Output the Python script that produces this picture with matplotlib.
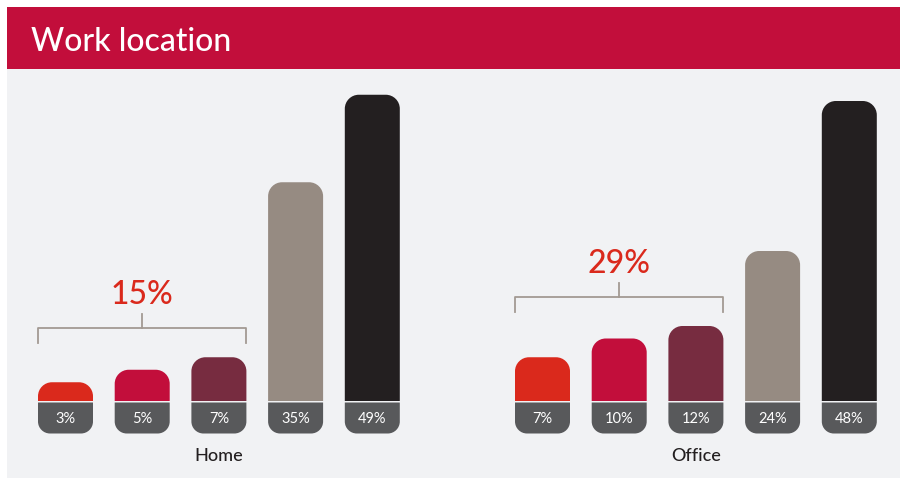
import matplotlib.pyplot as plt
from matplotlib.patches import PathPatch, Rectangle
from matplotlib.path import Path

# survey shares per work location
groups = ["Home", "Office"]
home_values = [3, 5, 7, 35, 49]
office_values = [7, 10, 12, 24, 48]
home_small_total = 15
office_small_total = 29

bar_colors = ["#DA291C", "#C20E3B", "#772C40", "#968B82", "#231F20"]
crimson = "#C20E3B"
panel_bg = "#F1F2F4"
label_bg = "#58595B"
bracket_color = "#A39A93"

W, H = 904, 479
PX_PER_PCT = 6.25          # vertical scale of the bar axes
BAR_W = 55
STEP = 76.7
R_BAR = 14                 # corner radii in px
R_TAG = 12
group_left = [38, 515]

plt.rcParams["font.family"] = ["Lato", "DejaVu Sans"]

fig = plt.figure(figsize=(W / 100, H / 100), dpi=100)
fig.patch.set_facecolor("white")

# background: header band + light panel, in pixel coordinates
bg = fig.add_axes([0, 0, 1, 1])
bg.set_xlim(0, W)
bg.set_ylim(H, 0)
bg.axis("off")
bg.add_patch(Rectangle((7, 69), 893, 409, color=panel_bg, lw=0))
bg.add_patch(Rectangle((7, 7), 893, 62, color=crimson, lw=0))
bg.text(31, 42, "Work location", color="white", fontsize=23,
        fontweight="medium", va="center", ha="left")

# bar axes: baseline at 401 px from the top, y in percent
base_px = 401
top_px = 80
ax = fig.add_axes([0, (H - base_px) / H, 1, (base_px - top_px) / H])
ax.set_xlim(0, W)
ax.set_ylim(0, (base_px - top_px) / PX_PER_PCT)
ax.axis("off")

K = 0.5523  # cubic bezier circle constant


def half_round(x, y0, y1, w, r, color, top=True):
    """Rectangle from y0 to y1 with the two corners at the top (or bottom) rounded."""
    ry = r / PX_PER_PCT
    if top:
        flat, curved, s = y0, y1, 1
    else:
        flat, curved, s = y1, y0, -1
    verts = [
        (x, flat),
        (x, curved - s * ry),
        (x, curved - s * ry * (1 - K)), (x + r * (1 - K), curved), (x + r, curved),
        (x + w - r, curved),
        (x + w - r * (1 - K), curved), (x + w, curved - s * ry * (1 - K)),
        (x + w, curved - s * ry),
        (x + w, flat),
        (x, flat),
    ]
    codes = [Path.MOVETO, Path.LINETO,
             Path.CURVE4, Path.CURVE4, Path.CURVE4,
             Path.LINETO,
             Path.CURVE4, Path.CURVE4, Path.CURVE4,
             Path.LINETO, Path.CLOSEPOLY]
    ax.add_patch(PathPatch(Path(verts, codes), fc=color, ec="none", zorder=2,
                           clip_on=False))


lab_top = -1.5 / PX_PER_PCT
lab_h = 31 / PX_PER_PCT

for g, (name, values, total) in enumerate(zip(groups,
                                              [home_values, office_values],
                                              [home_small_total, office_small_total])):
    lefts = [group_left[g] + i * STEP for i in range(len(values))]
    for x, v, c in zip(lefts, values, bar_colors):
        half_round(x, 0, v, BAR_W, R_BAR, c, top=True)
        half_round(x, lab_top - lab_h, lab_top, BAR_W, R_TAG, label_bg, top=False)
        ax.text(x + BAR_W / 2, lab_top - lab_h / 2 - 0.1, f"{v}%", color="white",
                fontsize=10.5, ha="center", va="center", zorder=4)

    # bracket over the three smaller bars
    small = values[:3]
    x0 = lefts[0]
    x1 = lefts[2] + BAR_W
    xc = (x0 + x1) / 2
    yb = max(small) + 29 / PX_PER_PCT
    ax.plot([x0, x0, x1, x1], [yb - 15 / PX_PER_PCT, yb, yb, yb - 15 / PX_PER_PCT],
            color=bracket_color, lw=1.3, clip_on=False)
    ax.plot([xc, xc], [yb, yb + 14 / PX_PER_PCT], color=bracket_color, lw=1.3,
            clip_on=False)
    ax.text(xc, yb + 33 / PX_PER_PCT, f"{total}%", color="#DA291C", fontsize=23,
            fontweight="medium", ha="center", va="center")

    # group name under the middle bar
    ax.text(lefts[2] + BAR_W / 2, -55 / PX_PER_PCT, name, color="#231F20",
            fontsize=13, fontweight="medium", ha="center", va="center",
            clip_on=False)

fig.savefig("out.png", dpi=100, facecolor=fig.get_facecolor())
